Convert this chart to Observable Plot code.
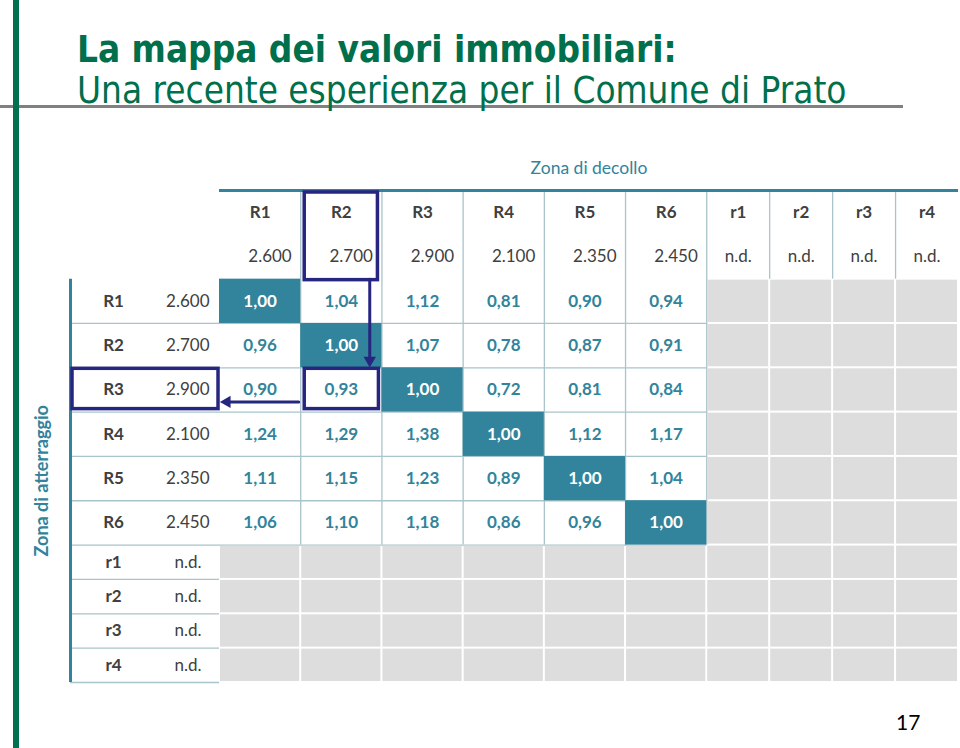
<!DOCTYPE html>
<html><head><meta charset="utf-8">
<script src="https://cdn.jsdelivr.net/npm/d3@7"></script>
<script src="https://cdn.jsdelivr.net/npm/@observablehq/plot@0.6"></script>
<style>
body{margin:0;background:#fff;}
#wrap{position:relative;width:960px;height:748px;overflow:hidden;font-family:Lato,sans-serif;}
#wrap svg{position:absolute;left:0;top:0;}
.bar{position:absolute;left:13px;top:0;width:6px;height:748px;background:#00704f;}
.rule{position:absolute;left:0;top:105px;width:903px;height:3px;background:#808080;}
.t1,.t2{position:absolute;left:77px;font-family:"Liberation Sans Narrow","DejaVu Sans Condensed",sans-serif;font-size:36.6px;line-height:36px;color:#006f4c;white-space:nowrap;}
.t1{top:32px;font-weight:bold;}
.t2{top:73px;}
.pg{position:absolute;left:896px;top:709px;font-size:21px;color:#000;}
</style></head>
<body><div id="wrap"></div>
<script>
// ---- data ----
const zones = ["R1","R2","R3","R4","R5","R6","r1","r2","r3","r4"];
const prices = [2600, 2700, 2900, 2100, 2350, 2450, null, null, null, null];
const ratioR1 = [1.00, 1.04, 1.12, 0.81, 0.90, 0.94];
const ratioR2 = [0.96, 1.00, 1.07, 0.78, 0.87, 0.91];
const ratioR3 = [0.90, 0.93, 1.00, 0.72, 0.81, 0.84];
const ratioR4 = [1.24, 1.29, 1.38, 1.00, 1.12, 1.17];
const ratioR5 = [1.11, 1.15, 1.23, 0.89, 1.00, 1.04];
const ratioR6 = [1.06, 1.10, 1.18, 0.86, 0.96, 1.00];
const ratios = [ratioR1, ratioR2, ratioR3, ratioR4, ratioR5, ratioR6];
const titleText = "Zona di decollo";
const sideText = "Zona di atterraggio";

// ---- layout (column / row widths in table units) ----
const teal = "#31849b", grid = "#a9c4ca", navy = "#262680", gray = "#dddddd", ink = "#404040";
const loc = d3.formatLocale({decimal: ",", thousands: ".", grouping: [3], currency: ["", "€"]});
const fmtPrice = v => v == null ? "n.d." : loc.format(",")(v);
const fmtRatio = loc.format(".2f");

const xKeys = ["lab", "val", ...zones];
const xW = k => k === "lab" ? 1.06 : k === "val" ? 0.775 : (k[0] === "R" ? 1 : 0.775);
const xs = {}; let totalX = 0;
for (const k of xKeys) { const w = xW(k); xs[k] = {x1: totalX, x2: totalX + w, xm: totalX + w / 2}; totalX += w; }
const yKeys = ["hdr", "hdrv", ...zones];
const yH = k => (k === "hdr" || k === "hdrv") ? 1 : (k[0] === "R" ? 1 : 0.775);
const ys = {}; let totalY = 0;
for (const k of yKeys) { const h = yH(k); ys[k] = {y1: totalY, y2: totalY + h, ym: totalY + h / 2}; totalY += h; }

const isR = z => z[0] === "R";
const cells = [];
zones.forEach((rz, ri) => zones.forEach((cz, ci) => {
  const v = (ri < 6 && ci < 6) ? ratios[ri][ci] : null;
  cells.push({r: rz, c: cz, v, diag: ri === ci, x1: xs[cz].x1, x2: xs[cz].x2, xm: xs[cz].xm, y1: ys[rz].y1, y2: ys[rz].y2, ym: ys[rz].ym});
}));

// grid rules
const vRules = [];
zones.slice(0, -1).forEach(z => {
  vRules.push({x: xs[z].x2, y1: ys.hdr.y1, y2: isR(z) ? ys.R6.y2 : ys.hdrv.y2});
});
const hRules = [];
zones.forEach(z => {
  hRules.push({y: ys[z].y2, x1: 0, x2: isR(z) ? xs.R6.x2 : xs.val.x2});
});

const hdrCols = zones.map((z, i) => ({z, p: prices[i], xm: xs[z].xm, x2: xs[z].x2}));
const rowLabs = zones.map((z, i) => ({z, p: prices[i], ym: ys[z].ym}));

// highlight boxes & arrows (R2 -> R3 example)
const boxHead = [{x1: xs.R2.x1, x2: xs.R2.x2, y1: ys.hdr.y1, y2: ys.hdrv.y2}];
const boxCell = [{x1: xs.R2.x1, x2: xs.R2.x2, y1: ys.R3.y1, y2: ys.R3.y2}];
const boxRow = [{x1: xs.lab.x1, x2: xs.val.x2, y1: ys.R3.y1, y2: ys.R3.y2}];
const ax = xs.R2.x1 + 0.85 * (xs.R2.x2 - xs.R2.x1);
const ay = ys.R3.y1 + 0.77 * (ys.R3.y2 - ys.R3.y1);
const arrowDown = [{x1: ax, y1: ys.hdrv.y2, x2: ax, y2: ys.R3.y1}];
const arrowLeft = [{x1: xs.R2.x1, y1: ay, x2: xs.val.x2, y2: ay}];

const chart = Plot.plot({
  width: 960, height: 748,
  marginLeft: 70, marginRight: 2, marginTop: 190, marginBottom: 66,
  x: {domain: [0, totalX], axis: null},
  y: {domain: [0, totalY], reverse: true, axis: null},
  style: {fontFamily: "Lato, sans-serif", background: "transparent", overflow: "visible"},
  marks: [
    Plot.ruleX(vRules, {x: "x", y1: "y1", y2: "y2", stroke: grid, strokeWidth: 1.3}),
    Plot.ruleY(hRules, {y: "y", x1: "x1", x2: "x2", stroke: grid, strokeWidth: 1.3}),
    Plot.rect(cells.filter(d => d.v == null), {x1: "x1", x2: "x2", y1: "y1", y2: "y2", fill: gray, inset: 1}),
    Plot.rect(cells.filter(d => d.v != null && d.diag), {x1: "x1", x2: "x2", y1: "y1", y2: "y2", fill: teal}),
    // table frame lines
    Plot.ruleY([{y: ys.hdr.y1, x1: xs.R1.x1, x2: totalX}], {y: "y", x1: "x1", x2: "x2", stroke: teal, strokeWidth: 3}),
    Plot.ruleX([{x: 0, y1: ys.R1.y1, y2: totalY}], {x: "x", y1: "y1", y2: "y2", stroke: teal, strokeWidth: 3}),
    // cell values
    Plot.text(cells.filter(d => d.v != null), {x: "xm", y: "ym", text: d => fmtRatio(d.v), fill: d => d.diag ? "#ffffff" : teal, fontWeight: "bold", fontSize: 17}),
    // column headers
    Plot.text(hdrCols, {x: "xm", y: ys.hdr.ym, text: "z", fill: ink, fontWeight: "bold", fontSize: 17}),
    Plot.text(hdrCols.filter(d => d.p != null), {x: "x2", y: ys.hdrv.ym, text: d => fmtPrice(d.p), fill: ink, fontSize: 17, textAnchor: "end", dx: -9}),
    Plot.text(hdrCols.filter(d => d.p == null), {x: "xm", y: ys.hdrv.ym, text: d => fmtPrice(d.p), fill: ink, fontSize: 17}),
    // row headers
    Plot.text(rowLabs, {x: xs.lab.xm, y: "ym", text: "z", fill: ink, fontWeight: "bold", fontSize: 17}),
    Plot.text(rowLabs.filter(d => d.p != null), {x: xs.val.x2, y: "ym", text: d => fmtPrice(d.p), fill: ink, fontSize: 17, textAnchor: "end", dx: -10}),
    Plot.text(rowLabs.filter(d => d.p == null), {x: xs.val.xm, y: "ym", text: d => fmtPrice(d.p), fill: ink, fontSize: 17}),
    // axis titles
    Plot.text([titleText], {x: (xs.R1.x1 + totalX) / 2, y: ys.hdr.y1, text: d => d, fill: teal, fontSize: 17.5, dy: -22}),
    Plot.text([sideText], {x: 0, y: (ys.R1.y1 + totalY) / 2, text: d => d, fill: teal, fontSize: 18, fontWeight: "bold", rotate: -90, dx: -28}),
    // highlight boxes
    Plot.rect(boxHead, {x1: "x1", x2: "x2", y1: "y1", y2: "y2", fill: "none", stroke: navy, strokeWidth: 3.5, insetLeft: 4, insetRight: 4, insetTop: 2, insetBottom: -1}),
    Plot.rect(boxCell, {x1: "x1", x2: "x2", y1: "y1", y2: "y2", fill: "none", stroke: navy, strokeWidth: 3.5, insetLeft: 4, insetRight: 3, insetTop: 1, insetBottom: 3}),
    Plot.rect(boxRow, {x1: "x1", x2: "x2", y1: "y1", y2: "y2", fill: "none", stroke: navy, strokeWidth: 3.5, insetLeft: 2, insetRight: 1, insetTop: 1, insetBottom: 3}),
    // arrows
    Plot.arrow(arrowDown, {x1: "x1", y1: "y1", x2: "x2", y2: "y2", stroke: navy, strokeWidth: 3, headLength: 0, insetEnd: 8, insetStart: 0}),
    Plot.dot(arrowDown, {x: "x2", y: "y2", symbol: "triangle", r: 4.6, fill: navy, stroke: "none", rotate: 180, dy: -7.5}),
    Plot.arrow(arrowLeft, {x1: "x1", y1: "y1", x2: "x2", y2: "y2", stroke: navy, strokeWidth: 3, headLength: 0, insetEnd: 8, insetStart: 2}),
    Plot.dot(arrowLeft, {x: "x2", y: "y2", symbol: "triangle", r: 4.6, fill: navy, stroke: "none", rotate: -90, dx: 7.5})
  ]
});

const wrap = document.getElementById("wrap");
wrap.appendChild(chart);
wrap.insertAdjacentHTML("beforeend",
  '<div class="rule"></div><div class="bar"></div>' +
  '<div class="t1">La mappa dei valori immobiliari:</div>' +
  '<div class="t2">Una recente esperienza per il Comune di Prato</div>' +
  '<div class="pg">17</div>');
</script>
</body></html>
